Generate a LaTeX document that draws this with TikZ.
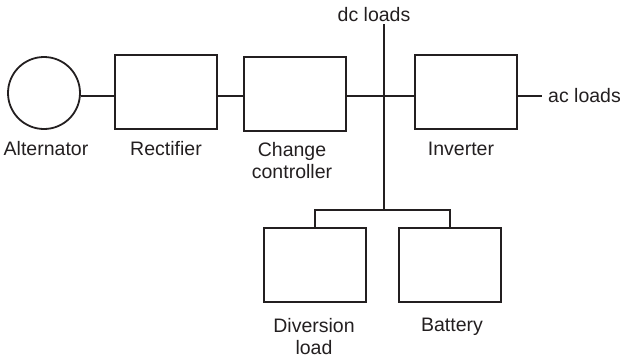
\documentclass[tikz,border=0pt]{standalone}
\usepackage{fontspec}
\setmainfont{Liberation Sans}
\definecolor{ink}{HTML}{231F20}
\tikzset{
	blk/.style={draw=ink, line width=1.8pt, minimum width=102pt, minimum height=74pt, inner sep=0pt},
	lbl/.style={anchor=base, inner sep=0pt, text=ink, font=\fontsize{19.5}{22}\selectfont},
	wire/.style={draw=ink, line width=1.6pt}
}
\begin{document}
\begin{tikzpicture}[x=1pt, y=-1pt]
		\useasboundingbox (0,0) rectangle (620,357);
		\node[draw=ink, line width=1.8pt, circle, minimum size=72pt, inner sep=0pt] (alt) at (44,93) {};
		\node[blk] (rect) at (166,92) {};
		\node[blk] (chg) at (295,94) {};
		\node[blk] (inv) at (466,92) {};
		\node[blk] (div) at (315,265) {};
		\node[blk] (bat) at (450,265) {};
		\coordinate (bus) at (384,96);
		\coordinate (top) at (384,24);
		\coordinate (split) at (384,210);
		\coordinate (acend) at (542,96);
		% main line
		\draw[wire] (alt.east |- bus) -- (rect.west |- bus);
		\draw[wire] (rect.east |- bus) -- (chg.west |- bus);
		\draw[wire] (chg.east |- bus) -- (inv.west |- bus);
		\draw[wire] (inv.east |- bus) -- (acend);
		\draw[wire] (top) -- (split);
		\draw[wire] (div.north) |- (split) -| (bat.north);
		% labels
		\node[lbl] (dcl) at (374,21) {dc loads};
		\node[lbl, anchor=base west] (acl) at (548,102) {ac loads};
		\node[lbl] (altl) at (46,155) {Alternator};
		\node[lbl] (rectl) at (166,155) {Rectifier};
		\node[lbl, align=center] (chgl) at (292,178) {Change\\controller};
		\node[lbl] (invl) at (461,155) {Inverter};
		\node[lbl, align=center] (divl) at (314,354) {Diversion\\load};
		\node[lbl] (batl) at (452,331) {Battery};
\end{tikzpicture}
\end{document}
